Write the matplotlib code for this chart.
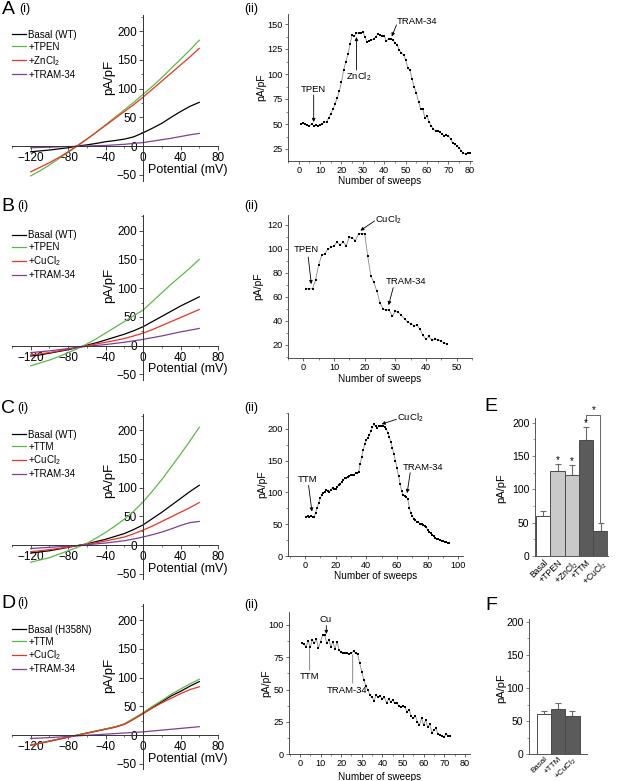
import matplotlib
matplotlib.use('Agg')
import matplotlib.pyplot as plt
from matplotlib.ticker import MultipleLocator

plt.rcParams['font.family'] = ['Liberation Sans', 'DejaVu Sans']
plt.rcParams['mathtext.fontset'] = 'custom'
plt.rcParams['mathtext.rm'] = 'Liberation Sans'
plt.rcParams['mathtext.it'] = 'Liberation Sans:italic'
plt.rcParams['mathtext.bf'] = 'Liberation Sans:bold'

# ---------------- data ----------------
voltage = [-120, -110, -100, -90, -80, -70, -60, -50, -40, -30, -20, -10, 0, 10, 20, 30, 40, 50, 60]

A_basal = [-10, -8.5, -7, -5, -3, 0, 2, 4.5, 7.5, 9.5, 12, 16, 23, 31, 39.5, 50, 60, 69, 76]
A_tpen = [-52, -43, -33, -22, -11, 0, 12, 24, 37, 50, 63, 76, 90, 104, 119, 135, 151, 167, 184]
A_zn = [-45, -37, -29, -20, -10, 1, 12, 24, 36, 48, 60, 72, 85, 99, 113, 127, 141, 155, 170]
A_tram = [-3, -2.5, -2, -1.5, -1, -0.5, 0, 0.5, 1, 2, 3, 4.5, 6, 8.5, 11, 13.5, 16.5, 19.5, 22]

B_basal = [-18, -16, -13, -10, -7, -3, 1, 5, 10, 15, 20, 26, 33, 42, 51, 60, 69, 77, 85]
B_tpen = [-35, -30, -25, -19, -12, -5, 3, 12, 22, 32, 42, 52, 62, 77, 92, 107, 121, 135, 150]
B_cu = [-16, -14, -12, -9, -6, -3, 0, 3, 6, 9, 12.5, 17, 22, 28, 35, 42, 49, 56, 63]
B_tram = [-12, -10.5, -9, -7, -5, -3, -1, 0.5, 2, 4, 6, 8.5, 11, 14, 17, 20.5, 24, 27, 30]

C_basal = [-14, -12, -10, -7, -4, -1, 2, 6, 10, 15, 20, 27, 35, 46, 57, 69, 81, 93, 104]
C_ttm = [-30, -26, -22, -16, -10, -4, 3, 12, 22, 33, 45, 59, 75, 94, 114, 136, 158, 181, 205]
C_cu = [-11.5, -10, -8, -6, -3.5, -1, 1.5, 4, 7, 10.5, 14, 19.5, 26, 33, 41, 49, 57, 65, 74]
C_tram = [-6, -5, -4, -3, -2, -1, 0.5, 2, 3.5, 5.5, 7.5, 10.5, 14, 18, 22.5, 28, 34, 39, 41]

D_basal = [-17.5, -14, -10.5, -7, -3.5, 0, 3.5, 7, 10.5, 14, 19, 28, 38, 48, 58, 68, 76, 85, 93]
D_ttm = [-17.5, -14, -10.5, -7, -3.5, 0, 3.5, 7, 10.5, 14, 19.5, 29, 39, 50, 60, 71, 80, 89, 97]
D_cu = [-18, -14.5, -11, -7.5, -4, -0.5, 3, 6.5, 10, 13.5, 18.5, 27.5, 37, 47, 56, 64, 72, 79, 84]
D_tram = [-6, -5.3, -4.5, -3.5, -2.5, -1.5, -0.5, 0.5, 1.5, 2.5, 3.5, 4.5, 5.5, 7, 8.5, 10, 11.5, 13, 14.5]

A_labels = ['Basal (WT)', '+TPEN', '+ZnCl$_2$', '+TRAM-34']
B_labels = ['Basal (WT)', '+TPEN', '+CuCl$_2$', '+TRAM-34']
C_labels = ['Basal (WT)', '+TTM', '+CuCl$_2$', '+TRAM-34']
D_labels = ['Basal (H358N)', '+TTM', '+CuCl$_2$', '+TRAM-34']

A_sweep_vals = [50, 51, 50, 49, 48, 50, 48, 49, 48, 49, 50, 52, 52, 56, 60, 65, 70, 76, 83, 92,
                104, 112, 120, 130, 139, 138, 141, 141, 141, 142, 137, 132, 133, 134, 135, 137, 140, 139, 138, 138,
                133, 135, 135, 134, 131, 129, 124, 121, 119, 114, 106, 104, 95, 87, 81, 72, 65, 65, 56, 58,
                52, 48, 45, 43, 43, 42, 40, 38, 39, 38, 35, 31, 30, 28, 26, 23, 21, 20, 21, 21]

B_sweep_vals = [66.7, 66.7, 66.7, 74, 86.7, 94.4, 95.6, 99.7, 101, 102, 105.6, 103, 105.6, 102.5, 109.7, 108.9,
                106.7, 112.5, 112.5, 112.5, 93.6, 77.5, 72, 64.4, 54.7, 50, 49, 49, 43.6, 47.8, 47, 44.4,
                41.7, 38.9, 37.5, 36, 36.5, 33.3, 27.8, 24.7, 26.9, 23.6, 24.7, 24.2, 22.8, 21.4, 20.6]

C_sweep_vals = [62, 63, 62, 63, 62, 61, 68, 76, 84, 91, 96, 99, 101, 104, 102, 101, 104, 107, 106, 105,
                109, 111, 114, 116, 119, 122, 123, 125, 126, 127, 128, 128, 130, 131, 132, 145, 156, 167, 176, 183,
                186, 191, 196, 203, 207, 205, 201, 204, 205, 205, 204, 203, 200, 194, 187, 180, 170, 160, 150, 138,
                126, 114, 102, 96, 94, 93, 90, 76, 68, 63, 59, 56, 54, 53, 51, 50, 48, 47, 45, 41,
                38, 36, 33, 31, 29, 27, 26, 25, 24, 23, 22, 21.5, 21, 20]

D_sweep_vals = [85.8, 85, 83.2, 87.9, 82.7, 88.4, 85.8, 89, 82, 87.1, 92.3, 92.3, 85.8, 88.4, 83.2, 87.1,
                81.2, 87.1, 80.6, 79.3, 78.6, 78, 78, 77.5, 78, 80, 78, 77.2, 70.3, 63.9, 57.4, 52.8,
                49.7, 45.8, 44, 41.5, 45.8, 44, 45, 42.5, 44, 39.9, 42.5, 40.7, 42, 39.4, 39.4, 37.6,
                36.3, 37.6, 36.3, 33, 34.3, 29.6, 27.8, 29.6, 25.2, 22.7, 27.8, 22.7, 26.5, 20.8, 23.4,
                16.7, 18.8, 20.1, 15.7, 14.9, 14.1, 13.6, 15.7, 14.1, 14.1]

E_labels = ['Basal', '+TPEN', '+ZnCl$_2$', '+TTM', '+CuCl$_2$']
E_values = [60, 127, 122, 174, 37]
E_err = [7, 11, 15, 20, 12]
F_labels = ['Basal', '+TTM', '+CuCl$_2$']
F_values = [61, 69, 58]
F_err = [5, 9, 8]

# ---------------- layout ----------------
W, H = 617, 781
fig = plt.figure(figsize=(W / 100, H / 100), dpi=100)


def box(l, r, t, b):
    return [l / W, 1 - b / H, (r - l) / W, (b - t) / H]


def ftext(x, y, s, size, **kw):
    fig.text(x / W, 1 - y / H, s, fontsize=size, ha='center', va='center', **kw)


IV_COLORS = ['black', '#5cb947', '#ec3323', '#7d3f98']
SPINE = '#333333'


def iv_panel(rect, traces, labels, ylab_y, leg_top):
    ax = fig.add_axes(rect)
    for vals, c in zip(traces, IV_COLORS):
        ax.plot(voltage, vals, color=c, lw=0.9)
    for s in ['top', 'right']:
        ax.spines[s].set_visible(False)
    ax.spines['left'].set_position(('data', 0))
    ax.spines['bottom'].set_position(('data', 0))
    for s in ['left', 'bottom']:
        ax.spines[s].set_linewidth(0.7)
        ax.spines[s].set_color(SPINE)
    ax.set_xlim(-140, 80)
    ax.set_ylim(-60, 228)
    ax.set_xticks([-120, -80, -40, 0, 40, 80])
    ax.set_yticks([-50, 0, 50, 100, 150, 200])
    ax.xaxis.set_minor_locator(MultipleLocator(20))
    ax.yaxis.set_minor_locator(MultipleLocator(25))
    ax.tick_params(which='major', labelsize=8.5, length=3, width=0.6, pad=1.5, color=SPINE)
    ax.tick_params(which='minor', length=1.5, width=0.5, color=SPINE)
    ax.patch.set_alpha(0)
    ax.legend(labels, loc='upper left', bbox_to_anchor=(0.0, leg_top), frameon=False,
              fontsize=7, borderaxespad=0, borderpad=0, handlelength=1.4,
              handletextpad=0.25, labelspacing=0.2)
    ax.text(0.47, ylab_y, 'pA/pF', transform=ax.transAxes, rotation=90,
            ha='center', va='center', fontsize=9.5)
    ax.text(0.852, 0.065, 'Potential (mV)', transform=ax.transAxes,
            ha='center', va='center', fontsize=9)
    return ax


def sweep_panel(rect, vals, xlim, ylim, xmaj, xmin, ymaj, ymin, xlab_y, ylab_x=-0.14):
    ax = fig.add_axes(rect)
    xs = list(range(1, len(vals) + 1))
    ax.plot(xs, vals, color='#8a8a8a', lw=0.6, zorder=1)
    ax.plot(xs, vals, ls='none', marker='s', ms=2.1, color='black', mew=0, zorder=2)
    for s in ['top', 'right']:
        ax.spines[s].set_visible(False)
    for s in ['left', 'bottom']:
        ax.spines[s].set_linewidth(0.6)
        ax.spines[s].set_color(SPINE)
    ax.set_xlim(*xlim)
    ax.set_ylim(*ylim)
    ax.xaxis.set_major_locator(MultipleLocator(xmaj))
    ax.xaxis.set_minor_locator(MultipleLocator(xmin))
    ax.yaxis.set_major_locator(MultipleLocator(ymaj))
    ax.yaxis.set_minor_locator(MultipleLocator(ymin))
    ax.tick_params(which='major', labelsize=6.6, length=2.5, width=0.5, pad=1.2, color=SPINE)
    ax.tick_params(which='minor', length=1.3, width=0.4, color=SPINE)
    ax.patch.set_alpha(0)
    ax.text(ylab_x, 0.5, 'pA/pF', transform=ax.transAxes, rotation=90,
            ha='center', va='center', fontsize=7.5)
    ax.text(0.5, xlab_y, 'Number of sweeps', transform=ax.transAxes,
            ha='center', va='center', fontsize=7.2)
    return ax


def arrow(ax, tail, tip, color='black', head=True):
    ax.annotate('', xy=tip, xytext=tail,
                arrowprops=dict(arrowstyle='-|>' if head else '-', lw=0.6, color=color,
                                mutation_scale=5, shrinkA=0, shrinkB=0))


ANN = 6.8

# ---- A ----
iv_panel(box(12, 218, 15, 180.5), [A_basal, A_tpen, A_zn, A_tram], A_labels, 0.625, 0.91)
ax = sweep_panel(box(288, 472, 14, 161), A_sweep_vals, (-5, 81), (13, 160), 10, 5, 25, 12.5, -0.135, -0.145)
ax.text(7, 85, 'TPEN', fontsize=ANN, ha='center', va='center')
arrow(ax, (7, 79), (7, 52))
ax.text(28.2, 97, 'ZnCl$_2$', fontsize=ANN, ha='center', va='center')
arrow(ax, (27, 104), (27, 137))
ax.text(45.6, 152.5, 'TRAM-34', fontsize=ANN, ha='left', va='center')
arrow(ax, (45.7, 149), (43.5, 137.5))

# ---- B ----
iv_panel(box(12, 218, 214.6, 380.2), [B_basal, B_tpen, B_cu, B_tram], B_labels, 0.571, 0.905)
ax = sweep_panel(box(288, 472, 215, 358), B_sweep_vals, (-5, 55), (9, 128), 10, 5, 20, 10, -0.148, -0.16)
ax.text(1.0, 99, 'TPEN', fontsize=ANN, ha='center', va='center')
arrow(ax, (1.6, 93), (2.6, 70.5))
ax.text(23.5, 124, 'CuCl$_2$', fontsize=ANN, ha='left', va='center')
arrow(ax, (23.2, 123), (18.6, 115))
ax.text(27, 72.5, 'TRAM-34', fontsize=ANN, ha='left', va='center')
arrow(ax, (29.3, 67.5), (27.8, 53))

# ---- C ----
iv_panel(box(12, 218, 414, 579.5), [C_basal, C_ttm, C_cu, C_tram], C_labels, 0.60, 0.905)
ax = sweep_panel(box(288, 463, 413, 556), C_sweep_vals, (-11, 103), (0, 225), 20, 10, 50, 25, -0.14, -0.145)
ax.text(1.5, 120, 'TTM', fontsize=ANN, ha='center', va='center')
arrow(ax, (2.4, 111), (4.6, 70))
ax.text(60, 217, 'CuCl$_2$', fontsize=ANN, ha='left', va='center')
arrow(ax, (59.6, 215), (50, 207.5))
ax.text(63.6, 140, 'TRAM-34', fontsize=ANN, ha='left', va='center')
arrow(ax, (68.6, 131), (66.6, 99))

# ---- D ----
iv_panel(box(12, 218, 604, 769.5), [D_basal, D_ttm, D_cu, D_tram], D_labels, 0.571, 0.875)
ax = sweep_panel(box(289, 470, 612, 754.3), D_sweep_vals, (-5.3, 82.5), (0, 110), 10, 5, 25, 12.5, -0.158, -0.125)
ax.text(12.3, 104, 'Cu', fontsize=ANN, ha='center', va='center')
arrow(ax, (12.8, 99.5), (12.8, 93))
ax.text(4.9, 60, 'TTM', fontsize=ANN, ha='center', va='center')
arrow(ax, (4.7, 82), (4.7, 65), color='#777777', head=False)
ax.text(22.7, 49.7, 'TRAM-34', fontsize=ANN, ha='center', va='center')
arrow(ax, (25.6, 77), (25.6, 55), color='#777777', head=False)

# ---- bar panels ----
DARK = '#5b5b5b'
LIGHT = '#c9c9c9'
EDGE = '#4a4a4a'


def bar_panel(rect, labels, vals, errs, colors, xlim, ylim, lab_size=6.2, lab_pad=1.5):
    ax = fig.add_axes(rect)
    xs = list(range(len(vals)))
    ax.bar(xs, vals, width=1.0, color=colors, edgecolor=EDGE, linewidth=0.7, zorder=2)
    ax.errorbar(xs, vals, yerr=[[0] * len(vals), errs], fmt='none', ecolor='#6a6a6a',
                elinewidth=0.8, capsize=2.2, capthick=0.8, zorder=1)
    for s in ['top', 'right']:
        ax.spines[s].set_visible(False)
    for s in ['left', 'bottom']:
        ax.spines[s].set_linewidth(0.7)
        ax.spines[s].set_color('#555555')
    ax.set_xlim(*xlim)
    ax.set_ylim(*ylim)
    ax.set_yticks([0, 50, 100, 150, 200])
    ax.yaxis.set_minor_locator(MultipleLocator(25))
    ax.set_xticks(xs)
    ax.set_xticklabels(labels, rotation=45, ha='right', rotation_mode='anchor', fontsize=lab_size)
    ax.tick_params(axis='x', length=0, pad=lab_pad)
    ax.tick_params(axis='y', which='major', labelsize=7.5, length=2.5, width=0.5, pad=1.5, color='#555555')
    ax.tick_params(axis='y', which='minor', length=1.3, width=0.4, color='#555555')
    ax.patch.set_alpha(0)
    return ax


ax = bar_panel(box(535, 608, 418, 556), E_labels, E_values, E_err,
               ['white', LIGHT, LIGHT, DARK, DARK], (-0.57, 4.52), (0, 207))
ax.text(-0.456, 0.49, 'pA/pF', transform=ax.transAxes, rotation=90, ha='center', va='center', fontsize=8)
for i, yy in [(1, 144), (2, 143), (3, 199)]:
    ax.text(i, yy, '*', fontsize=7, ha='center', va='center')
ax.plot([3, 3, 3.95, 3.95], [204, 212, 212, 51], color='#666666', lw=0.7, clip_on=False)
ax.text(3.5, 219, '*', fontsize=7, ha='center', va='center', clip_on=False)

ax = bar_panel(box(529, 587, 619, 754.3), F_labels, F_values, F_err,
               ['white', DARK, DARK], (-1.04, 3.02), (0, 204), lab_size=5.8, lab_pad=0.5)
ax.text(-0.47, 0.49, 'pA/pF', transform=ax.transAxes, rotation=90, ha='center', va='center', fontsize=8)

# ---- panel letters ----
ftext(8.5, 9, 'A', 14)
ftext(25, 9, '(i)', 9)
ftext(251, 9, '(ii)', 9)
ftext(7.5, 206.5, 'B', 14)
ftext(23, 206, '(i)', 9)
ftext(251, 206, '(ii)', 9)
ftext(7.5, 408.5, 'C', 14)
ftext(23, 408, '(i)', 9)
ftext(251, 408, '(ii)', 9)
ftext(8, 603, 'D', 14)
ftext(23, 603, '(i)', 9)
ftext(251, 605, '(ii)', 9)
ftext(491, 406, 'E', 14)
ftext(491, 606, 'F', 14)

fig.savefig('out.png', dpi=100)
